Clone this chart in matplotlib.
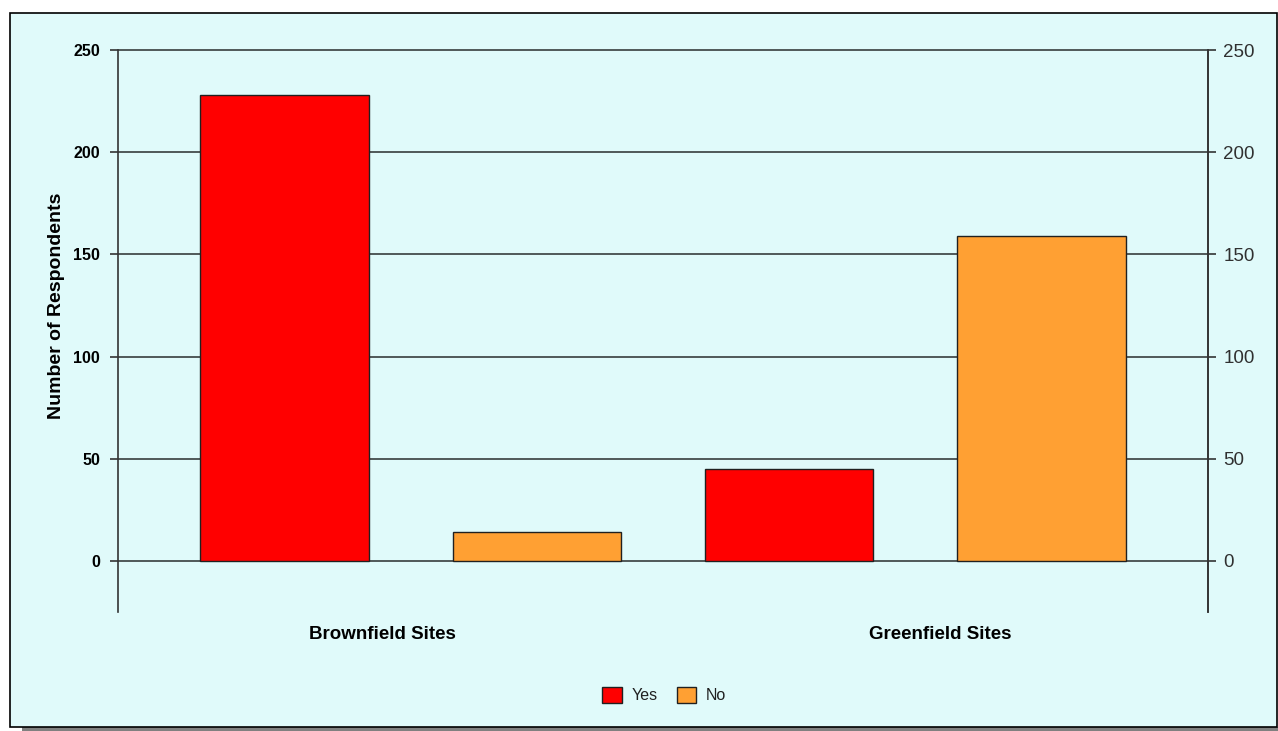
import numpy as np
import matplotlib.pyplot as plt
from matplotlib.patches import Rectangle, Patch

plt.rcParams['font.family'] = ['Liberation Sans', 'DejaVu Sans']

sites = ['Brownfield Sites', 'Greenfield Sites']
series = ['Yes', 'No']
yes_vals = [228, 45]
no_vals = [14, 159]
colors = ['#ff0000', '#ffa033']
yticks = [0, 50, 100, 150, 200, 250]

fig = plt.figure(figsize=(12.78, 7.31), dpi=100)
fig.patch.set_facecolor('white')

# panel with drop shadow, kept behind the axes
W, H = 1278, 731
fig.patches.append(Rectangle((22 / W, 0), 1 - 22 / W, 4 / H, transform=fig.transFigure,
                             facecolor='#808080', edgecolor='none', zorder=-3))
fig.patches.append(Rectangle((10 / W, 1 - 727 / H), (1277 - 10) / W, (727 - 13) / H,
                             transform=fig.transFigure, facecolor='#e0fafa',
                             edgecolor='black', linewidth=1.2, zorder=-2))

ax = fig.add_axes([118 / W, 1 - 612 / H, (1208 - 118) / W, (612 - 50) / H])
ax.set_facecolor('none')

# four bars evenly spaced, two per site
vals = [yes_vals, no_vals]
for s, name in enumerate(series):
    pos = [2 * g + s for g in range(len(sites))]
    ax.bar(pos, vals[s], width=0.667, color=colors[s], edgecolor='#202020',
           linewidth=1.0, zorder=3, label=name)

ax.set_xlim(-0.66, 3.66)
ax.set_ylim(-25, 250)

for v in yticks:
    ax.axhline(v, color='#505858', linewidth=1.4, zorder=2, clip_on=False)

ax.set_yticks(yticks)
ax.set_yticklabels([str(v) for v in yticks], fontweight='bold', fontsize=11.5)
ax.tick_params(axis='y', which='both', direction='out', length=6, width=1.2,
               color='#333333', pad=7)
ax.tick_params(axis='x', length=0)
ax.set_xticks([])

ax.spines['top'].set_visible(False)
ax.spines['bottom'].set_visible(False)
for side in ['left', 'right']:
    ax.spines[side].set_color('#333333')
    ax.spines[side].set_linewidth(1.2)

# y label centred on the 0-250 range
ax.text(-0.66 - 61 / 251.67, 125, 'Number of Respondents', rotation=90,
        ha='center', va='center', fontweight='bold', fontsize=14)

# mirrored axis on the right
ax2 = ax.twinx()
ax2.set_ylim(-25, 250)
ax2.set_yticks(yticks)
ax2.set_yticklabels([str(v) for v in yticks], fontsize=13.5, color='#303030')
ax2.tick_params(axis='y', direction='out', length=6, width=1.2, color='#333333', pad=5)
for side in ['top', 'bottom', 'left']:
    ax2.spines[side].set_visible(False)
ax2.spines['right'].set_color('#333333')
ax2.spines['right'].set_linewidth(1.2)

# category labels centred on each half of the axis
cat_centers = [0.39, 2.60]
for c, name in zip(cat_centers, sites):
    ax.text(c, -36, name, ha='center', va='center', fontweight='bold', fontsize=13.5)

handles = [Patch(facecolor=colors[i], edgecolor='#202020', label=series[i]) for i in range(2)]
fig.legend(handles=handles, loc='center', bbox_to_anchor=(664 / W, 1 - 695 / H), ncol=2,
           frameon=False, fontsize=11.5, handlelength=1.25, handleheight=1.2,
           handletextpad=0.6, columnspacing=1.2, labelcolor='#202020')

fig.savefig('out.png', dpi=100)
